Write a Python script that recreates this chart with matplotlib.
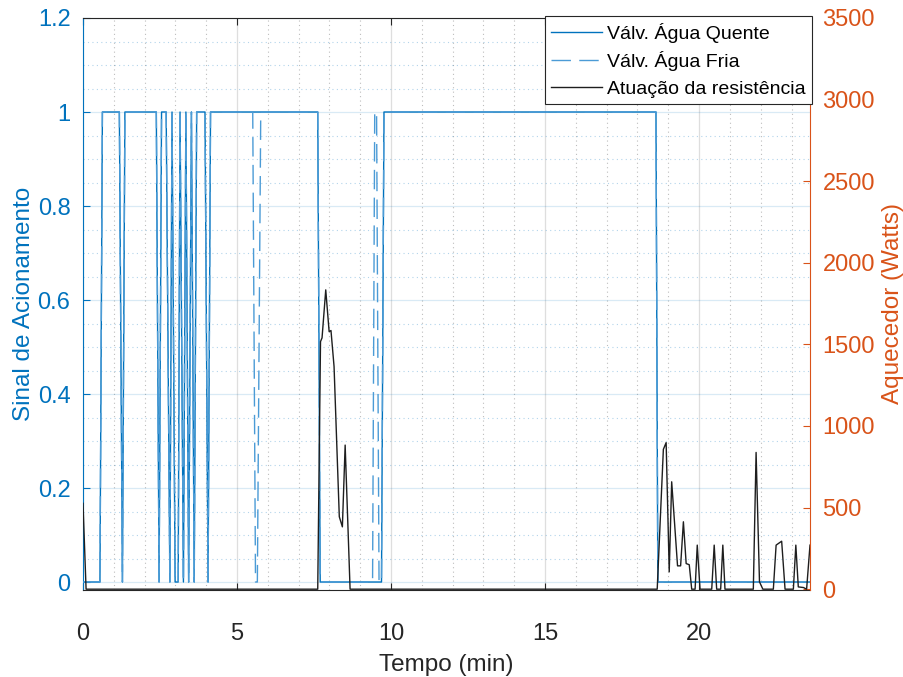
import matplotlib
matplotlib.use('Agg')
import matplotlib.pyplot as plt
import numpy as np
from matplotlib.ticker import FuncFormatter

plt.rcParams['font.family'] = ['Liberation Sans', 'DejaVu Sans']

# ---------------- data ----------------
hot_t = [0, 0.55, 0.63, 1.18, 1.28, 1.36, 2.38, 2.47, 2.55, 2.70, 2.82, 2.89,
         2.99, 3.09, 3.15, 3.26, 3.34, 3.43, 3.52, 3.61, 3.69, 3.96, 4.06, 4.14,
         7.62, 7.70, 9.69, 9.77, 18.60, 18.66, 23.6]
hot_v = [0, 0, 1, 1, 0, 1, 1, 0, 1, 1, 0, 1,
         0, 0, 1, 0, 1, 0, 1, 0, 1, 1, 0, 1,
         1, 0, 0, 1, 1, 0, 0]

cold_t = [0, 0.55, 0.63, 1.18, 1.28, 1.36, 2.38, 2.47, 2.55, 2.70, 2.82, 2.89,
          2.99, 3.09, 3.15, 3.26, 3.34, 3.43, 3.52, 3.61, 3.69, 3.96, 4.06, 4.14,
          5.51, 5.60, 5.66, 5.77, 7.62, 7.70, 9.40, 9.47, 9.53, 9.61, 9.69, 9.77,
          18.60, 18.66, 23.6]
cold_v = [0, 0, 1, 1, 0, 1, 1, 0, 1, 1, 0, 1,
          0, 0, 1, 0, 1, 0, 1, 0, 1, 1, 0, 1,
          1, 0, 0, 1, 1, 0, 0, 1, 1, 0, 0, 1,
          1, 0, 0]

heat_t = [0, 0.10, 7.62, 7.71, 7.76, 7.88, 7.99, 8.05, 8.15, 8.32, 8.42, 8.51,
          8.67, 18.64, 18.84, 18.93, 19.03, 19.11, 19.30, 19.40, 19.49, 19.58,
          19.68, 19.76, 19.87, 19.94, 20.03, 20.41, 20.49, 20.57, 20.70, 20.77,
          20.84, 21.76, 21.85, 21.96, 22.07, 22.41, 22.50, 22.68, 22.79, 23.06,
          23.14, 23.22, 23.39, 23.49, 23.6]
heat_v = [526, 0, 0, 1517, 1540, 1834, 1578, 1585, 1364, 444, 382, 883,
          0, 0, 857, 898, 106, 658, 143, 143, 413, 157,
          150, 0, 0, 270, 0, 0, 270, 0, 0, 270,
          0, 0, 838, 45, 0, 0, 270, 294, 0, 0,
          270, 14, 10, 0, 270]

labels = ['Válv. Água Quente', 'Válv. Água Fria', 'Atuação da resistência']
x_ticks = [0, 5, 10, 15, 20]
left_ticks = [0, 0.2, 0.4, 0.6, 0.8, 1.0, 1.2]
right_ticks = [0, 500, 1000, 1500, 2000, 2500, 3000, 3500]

BLUE = '#0072BD'
BLUE_L = '#4b9bd6'
ORANGE = '#D95319'
DARK = '#262626'

fig = plt.figure(figsize=(9.04, 6.77), dpi=100)
ax = fig.add_axes([83/904, 1-590/677, (810-83)/904, (590-18)/677])
ax2 = ax.twinx()

l1, = ax.plot(hot_t, hot_v, color=BLUE, lw=1.0, label=labels[0], zorder=3)
l2, = ax.plot(cold_t, cold_v, color=BLUE_L, lw=1.0, dashes=(14, 6), label=labels[1], zorder=4)
l3, = ax2.plot(heat_t, heat_v, color='#1e1e1e', lw=1.0, label=labels[2])

ax.set_xlim(0, 23.6)
ax.set_ylim(-0.017, 1.2)
ax2.set_ylim(-5, 3500)

ax.set_xticks(x_ticks)
ax.set_xticks(np.arange(0, 24, 1), minor=True)
ax.set_yticks(left_ticks)
ax.set_yticks(np.arange(0, 1.201, 0.05), minor=True)
ax.yaxis.set_major_formatter(FuncFormatter(lambda v, p: f'{v:g}'))
ax2.set_yticks(right_ticks)

ax.set_axisbelow(True)
ax.grid(which='major', axis='x', color=DARK, alpha=0.15, lw=0.9)
ax.grid(which='major', axis='y', color=BLUE, alpha=0.15, lw=0.9)
ax.grid(which='minor', axis='x', color=DARK, alpha=0.3, lw=0.8, dashes=(1, 3))
ax.grid(which='minor', axis='y', color=BLUE, alpha=0.3, lw=0.8, dashes=(1, 3))

ax.tick_params(axis='x', which='major', direction='in', length=5, top=True,
               colors=DARK, labelsize=17, pad=24)
ax.tick_params(axis='y', which='major', direction='in', length=5,
               colors=BLUE, labelsize=17, pad=9)
ax.tick_params(which='minor', length=0)
ax2.tick_params(axis='y', which='major', direction='in', length=5,
                colors=ORANGE, labelsize=17, pad=9)

ax.spines['left'].set_color(BLUE)
ax.spines['right'].set_visible(False)
ax.spines['top'].set_color(DARK)
ax.spines['bottom'].set_color(DARK)
for s in ax.spines.values():
    s.set_linewidth(0.8)
for k in ('left', 'top', 'bottom'):
    ax2.spines[k].set_visible(False)
ax2.spines['right'].set_color(ORANGE)
ax2.spines['right'].set_linewidth(0.8)

ax.set_xlabel('Tempo (min)', fontsize=17.5, color=DARK, labelpad=6)
ax.set_ylabel('Sinal de Acionamento', fontsize=17.5, color=BLUE, labelpad=2)
ax2.set_ylabel('Aquecedor (Watts)', fontsize=17.5, color=ORANGE, labelpad=5)

leg = ax2.legend([l1, l2, l3], labels, loc='upper right', bbox_to_anchor=(1.003, 1.004),
                 borderaxespad=0, fancybox=False, framealpha=1, edgecolor=DARK,
                 fontsize=14, handlelength=2.6, handletextpad=0.25, borderpad=0.35,
                 labelspacing=0.45)
leg.get_frame().set_linewidth(0.8)
for t in leg.get_texts():
    t.set_color('#000000')

fig.savefig('out.png', dpi=100)
